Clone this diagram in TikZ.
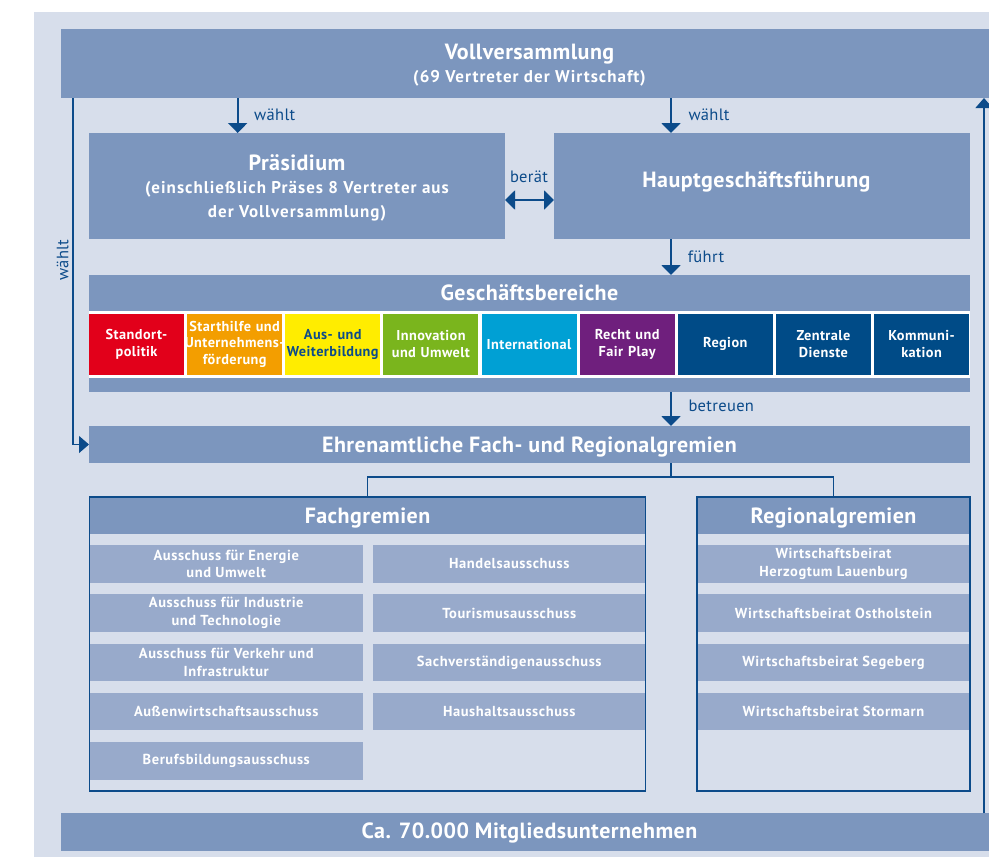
\documentclass[tikz,border=0pt]{standalone}
\usepackage{fontspec}
\setmainfont{PT Sans}
\usetikzlibrary{arrows.meta,calc}
\definecolor{bgc}{RGB}{215,222,235}
\definecolor{barc}{RGB}{124,150,190}
\definecolor{itemc}{RGB}{152,170,203}
\definecolor{dblue}{RGB}{12,75,138}
\definecolor{cred}{RGB}{226,0,26}
\definecolor{corange}{RGB}{243,158,0}
\definecolor{cyellow}{RGB}{255,237,0}
\definecolor{cgreen}{RGB}{122,181,29}
\definecolor{ccyan}{RGB}{0,160,212}
\definecolor{cpurple}{RGB}{111,31,125}
\definecolor{cnavy}{RGB}{0,75,135}
\newcommand{\fitline}[1]{\makebox[95.1pt][c]{#1}}
\begin{document}
\begin{tikzpicture}[x=1pt,y=-1pt,
  barbox/.style={fill=barc, draw=none, inner sep=0pt, outer sep=0pt},
  ttl/.style={text=white, font=\bfseries\fontsize{22}{26}\selectfont\addfontfeatures{LetterSpace=2}, inner sep=0pt},
  sub/.style={text=white, font=\bfseries\fontsize{17}{24}\selectfont\addfontfeatures{LetterSpace=6}, inner sep=0pt},
  lbl/.style={text=dblue, font=\fontsize{16.5}{20}\selectfont\addfontfeatures{LetterSpace=2}, inner sep=0pt},
  arr/.style={draw=dblue, line width=2pt, -{Triangle[length=10pt,width=19pt]}},
  darr/.style={draw=dblue, line width=2pt, {Triangle[length=10pt,width=19pt]}-{Triangle[length=10pt,width=19pt]}},
  thinarr/.style={draw=dblue, line width=1.3pt, -{Triangle[length=10pt,width=17pt]}},
  tree/.style={draw=dblue, line width=1.5pt},
  gbox/.style={inner sep=0pt, outer sep=0pt, text width=95.1pt, minimum width=95.1pt, minimum height=60.5pt, align=center, text=white, font=\bfseries\fontsize{14.3}{16.8}\selectfont\addfontfeatures{LetterSpace=3}},
  itembox/.style={fill=itemc, inner sep=0pt, outer sep=0pt, minimum height=37.7pt, align=center, text=white, font=\bfseries\fontsize{14.5}{17.8}\selectfont\addfontfeatures{LetterSpace=4}},
  frame/.style={draw=dblue, line width=1.5pt, inner sep=0pt, outer sep=0pt}
]
\useasboundingbox (0,0) rectangle (989,857);
\fill[white] (0,0) rectangle (989,857);
\fill[bgc] (34,12) rectangle (989,857);

% Vollversammlung
\node[barbox, minimum width=937pt, minimum height=69pt] (vv) at (529.5,63.5) {};
\node[ttl, anchor=base] (vvt) at (529.5,59.3) {Vollversammlung};
\node[sub, anchor=base] (vvs) at (529.5,82.7) {(69 Vertreter der Wirtschaft)};

% Praesidium and HGF
\node[barbox, minimum width=416pt, minimum height=106pt] (pr) at (297,186) {};
\node[ttl, anchor=base] (prt) at (297,170.3) {Präsidium};
\node[sub, anchor=base] (prs1) at (297,193.3) {(einschließlich Präses 8 Vertreter aus};
\node[sub, anchor=base] (prs2) at (297,217.3) {der Vollversammlung)};

\node[barbox, minimum width=416pt, minimum height=106pt] (hgf) at (762,186) {};
\node[ttl, anchor=base] (hgft) at (756.5,187.3) {Hauptgeschäftsführung};

% Geschaeftsbereiche
\node[barbox, minimum width=881pt, minimum height=117pt] (gb) at (529.5,333.5) {};
\node[ttl, anchor=base] (gbt) at (529.5,300.7) {Geschäftsbereiche};
\fill[white] (89,311) rectangle (970,377.5);
\node[gbox, fill=cred] (b1) at (136.55,344.25) {Standort-\\politik};
\node[gbox, fill=corange] (b2) at (234.675,344.25) {Starthilfe und\\\fitline{Unternehmens-}\\förderung};
\node[gbox, fill=cyellow, text=dblue] (b3) at (332.8,344.25) {Aus- und\\\fitline{Weiterbildung}};
\node[gbox, fill=cgreen] (b4) at (430.925,344.25) {Innovation\\und Umwelt};
\node[gbox, fill=ccyan] (b5) at (529.05,344.25) {\fitline{International}};
\node[gbox, fill=cpurple] (b6) at (627.175,344.25) {Recht und\\Fair Play};
\node[gbox, fill=cnavy] (b7) at (725.3,344.25) {Region};
\node[gbox, fill=cnavy] (b8) at (823.425,344.25) {Zentrale\\Dienste};
\node[gbox, fill=cnavy] (b9) at (921.55,344.25) {Kommuni-\\kation};

% Ehrenamtliche
\node[barbox, minimum width=881pt, minimum height=37pt] (ea) at (529.5,444.5) {};
\node[ttl, anchor=base] (eat) at (529.5,452.7) {Ehrenamtliche Fach- und Regionalgremien};

% Fachgremien
\node[inner sep=0pt, outer sep=0pt, minimum width=556pt, minimum height=294pt] (fg) at (367.5,644) {};
\fill[barc] (89.5,497) rectangle (645.5,534);
\node[ttl, anchor=base] (fgt) at (367.5,523.3) {Fachgremien};
\node[itembox, minimum width=273.5pt] (f1) at (226.25,563.9) {Ausschuss für Energie\\und Umwelt};
\node[itembox, minimum width=273.5pt] (f2) at (226.25,613.1) {Ausschuss für Industrie\\und Technologie};
\node[itembox, minimum width=273.5pt] (f3) at (226.25,662.4) {Ausschuss für Verkehr und\\Infrastruktur};
\node[itembox, minimum width=273.5pt] (f4) at (226.25,711.6) {Außenwirtschaftsausschuss};
\node[itembox, minimum width=273.5pt] (f5) at (226.25,760.9) {Berufsbildungsausschuss};
\node[itembox, minimum width=272.5pt] (f6) at (509.25,563.9) {Handelsausschuss};
\node[itembox, minimum width=272.5pt] (f7) at (509.25,613.1) {Tourismusausschuss};
\node[itembox, minimum width=272.5pt] (f8) at (509.25,662.4) {Sachverständigenausschuss};
\node[itembox, minimum width=272.5pt] (f9) at (509.25,711.6) {Haushaltsausschuss};
\draw[frame] (fg.north west) rectangle (fg.south east);

% Regionalgremien
\node[inner sep=0pt, outer sep=0pt, minimum width=273pt, minimum height=294pt] (rg) at (833.5,644) {};
\fill[barc] (697,497) rectangle (970,534);
\node[ttl, anchor=base] (rgt) at (833.5,523.3) {Regionalgremien};
\node[itembox, minimum width=273pt] (r1) at (833.5,563.9) {Wirtschaftsbeirat\\Herzogtum Lauenburg};
\node[itembox, minimum width=273pt] (r2) at (833.5,613.1) {Wirtschaftsbeirat Ostholstein};
\node[itembox, minimum width=273pt] (r3) at (833.5,662.4) {Wirtschaftsbeirat Segeberg};
\node[itembox, minimum width=273pt] (r4) at (833.5,711.6) {Wirtschaftsbeirat Stormarn};
\draw[frame] (rg.north west) rectangle (rg.south east);

% Mitglieder
\node[barbox, minimum width=937pt, minimum height=38pt] (mb) at (529.5,832) {};
\node[ttl, anchor=base] (mbt) at (529.5,838.3) {Ca. 70.000 Mitgliedsunternehmen};

% connectors
\coordinate (xa) at (237.7,0);
\coordinate (xb) at (671,0);
\coordinate (xl) at (73,0);
\coordinate (xr) at (984,0);
\coordinate (yb) at (0,200);
\coordinate (tj) at (671,477);

\draw[arr] (vv.south -| xa) -- (pr.north -| xa);
\draw[arr] (vv.south -| xb) -- (hgf.north -| xb);
\draw[arr] (hgf.south -| xb) -- (gb.north -| xb);
\draw[arr] (gb.south -| xb) -- (ea.north -| xb);
\draw[darr] (pr.east |- yb) -- (hgf.west |- yb);
\draw[thinarr] (vv.south -| xl) |- (ea.west);
\draw[thinarr] (mb.north -| xr) -- (vv.south -| xr);
\draw[tree] (ea.south -| tj) -- (tj) -| (fg.north);
\draw[tree] (tj) -| (rg.north);

% labels
\node[lbl, anchor=base west] (l1) at (254,120.7) {wählt};
\node[lbl, anchor=base west] (l2) at (688.3,120.7) {wählt};
\node[lbl, anchor=base] (l3) at (529,182.3) {berät};
\node[lbl, anchor=base west] (l4) at (687.7,262.7) {führt};
\node[lbl, anchor=base west] (l5) at (688.3,411.7) {betreuen};
\node[lbl, anchor=base, rotate=90] (l0) at (68.3,260) {wählt};
\end{tikzpicture}
\end{document}
